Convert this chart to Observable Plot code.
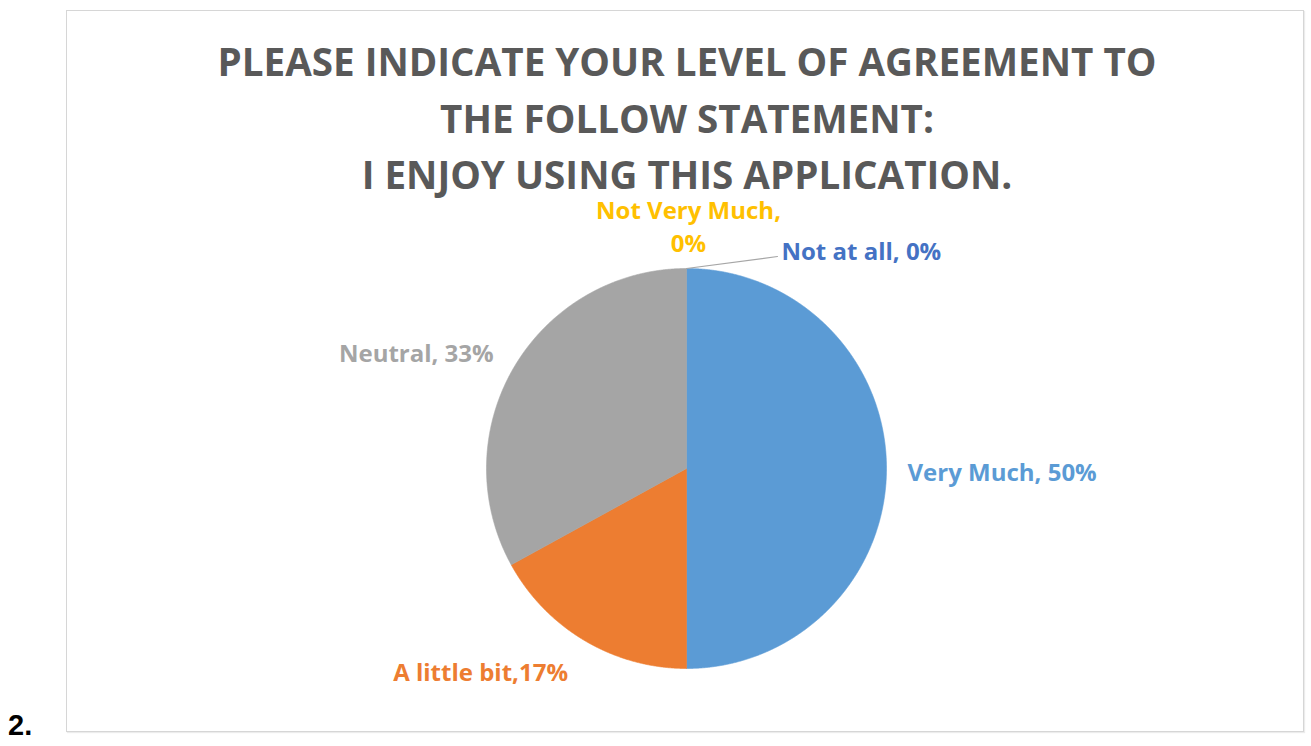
<!DOCTYPE html>
<html>
<head>
<meta charset="utf-8">
<script src="https://cdn.jsdelivr.net/npm/d3@7"></script>
<script src="https://cdn.jsdelivr.net/npm/@observablehq/plot@0.6"></script>
<style>
  html, body { margin: 0; padding: 0; background: #fff; }
  body { width: 1311px; height: 746px; position: relative; overflow: hidden; font-family: "Open Sans", sans-serif; }
  #frame { position: absolute; left: 66px; top: 10px; width: 1238px; height: 722px; box-sizing: border-box;
           border: 1px solid #d6d6d6; box-shadow: 1px 1px 1px #ececec; }
  #title { position: absolute; left: 0; top: 33px; width: 1374px; text-align: center; color: #595959;
           font-weight: 700; font-size: 38.6px; line-height: 56.5px; }
  #num { position: absolute; left: 8px; top: 709px; font-family: "Liberation Sans", Arial, sans-serif;
         font-weight: 700; font-size: 29px; color: #000; }
  #chart { position: absolute; left: 0; top: 0; }
</style>
</head>
<body>
<div id="frame"></div>
<div id="title">PLEASE INDICATE YOUR LEVEL OF AGREEMENT TO<br>THE FOLLOW STATEMENT:<br>I ENJOY USING THIS APPLICATION.</div>
<div id="num">2.</div>
<div id="chart"></div>
<script>
// ---- data ----
const categories = ["Very Much", "A little bit", "Neutral", "Not Very Much", "Not at all"];
const percents = [50, 17, 33, 0, 0];
const labelTexts = ["Very Much, 50%", "A little bit,17%", "Neutral, 33%", "Not Very Much,\n0%", "Not at all, 0%"];
const sliceColors = ["#5B9BD5", "#ED7D31", "#A5A5A5", "#FFC000", "#4472C4"];
const labelColors = ["#5B9BD5", "#ED7D31", "#A5A5A5", "#FFC000", "#4472C4"];

// ---- layout ----
const W = 1311, H = 746, CX = 686, CY = 468, R = 200;
// label placement: radial factor, anchor, extra offsets (in radius units)
const labelLayout = [
  { r: 1.105, anchor: "start",  dx: 0,      dy: -0.01 },
  { r: 1.17,  anchor: "middle", dx: -0.434, dy: -0.005 },
  { r: 1.12,  anchor: "end",    dx: 0,      dy: 0.015 },
  { r: 1.22,  anchor: "middle", dx: 0.01,   dy: 0 },
  { r: 1.0,   anchor: "start",  dx: 0.475,  dy: 0.095, leader: true }
];

const rows = categories.map((c, i) => ({ cat: c, value: percents[i], label: labelTexts[i], color: sliceColors[i], lcolor: labelColors[i], i }));
const arcs = d3.pie().sort(null).value(d => d.value)(rows);

const pt = (a, r) => ({ x: r * Math.sin(a), y: r * Math.cos(a) });

const sliceMarks = arcs.filter(a => a.endAngle > a.startAngle).map(a => {
  const n = Math.max(2, Math.ceil((a.endAngle - a.startAngle) / 0.004));
  const pts = [{ x: 0, y: 0 }];
  for (let k = 0; k <= n; k++) pts.push(pt(a.startAngle + (a.endAngle - a.startAngle) * k / n, 1));
  pts.push({ x: 0, y: 0 });
  return Plot.line(pts, { x: "x", y: "y", fill: a.data.color, stroke: a.data.color, strokeWidth: 0.6 });
});

const labelRows = arcs.map(a => {
  const L = labelLayout[a.data.i];
  const mid = (a.startAngle + a.endAngle) / 2;
  const p = pt(mid, L.r);
  return { ...a.data, x: p.x + L.dx, y: p.y + L.dy, anchor: L.anchor, leader: !!L.leader, mid };
});

const leaderRows = labelRows.filter(d => d.leader).flatMap(d => {
  const s = pt(d.mid, 1);
  return [{ id: d.cat, x: s.x, y: s.y }, { id: d.cat, x: d.x - 0.02, y: d.y - 0.035 }];
});

const textMark = anchor => Plot.text(labelRows.filter(d => d.anchor === anchor), {
  x: "x", y: "y", text: "label", fill: "lcolor", textAnchor: anchor,
  fontSize: 24, fontWeight: 700, fontFamily: "Open Sans", lineHeight: 1.375, lineAnchor: "middle"
});

const chart = Plot.plot({
  width: W, height: H, margin: 0,
  style: { background: "transparent", overflow: "visible" },
  x: { domain: [-CX / R, (W - CX) / R], axis: null },
  y: { domain: [-(H - CY) / R, CY / R], axis: null },
  color: { type: "identity" },
  marks: [
    ...sliceMarks,
    Plot.line(leaderRows, { x: "x", y: "y", z: "id", stroke: "#a6a6a6", strokeWidth: 1.2 }),
    textMark("start"), textMark("middle"), textMark("end")
  ]
});
document.getElementById("chart").appendChild(chart);
</script>
</body>
</html>
